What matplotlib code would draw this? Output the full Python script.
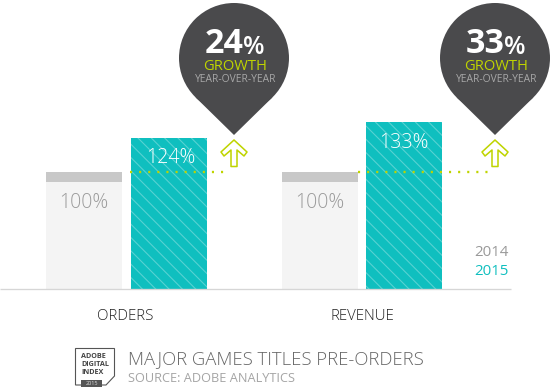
"""Major games titles pre-orders, 2014 vs 2015, with growth pins."""
import matplotlib
matplotlib.use("Agg")
import matplotlib.pyplot as plt
from matplotlib.patches import Circle, Polygon, Rectangle

# Data
CATEGORIES = ["ORDERS", "REVENUE"]
BAR_2014 = [117, 117]  # drawn height, the picture is not to scale with the labels
BAR_2015 = [151, 167]
LABELS_2014 = ["100%", "100%"]
LABELS_2015 = ["124%", "133%"]
GROWTH = ["24", "33"]
YEARS = ["2014", "2015"]

# Layout, in picture pixels
W, H = 554, 391
DPI = 80
BASE = 289
X_2014 = [46, 282]
X_2015 = [131, 366]
BAR_W = 76
CAP_H = 10
PIN_X = [234, 495]
PIN_Y = 58
PIN_R = 55
TIP_Y = 135

GRAY_BAR = "#f4f4f4"
GRAY_CAP = "#c8c8c8"
TEAL = "#0fbfbf"
STRIPE = "#58d2d2"
LIME = "#bfd400"
DARK = "#4a4a4c"

plt.rcParams["font.family"] = ["Open Sans", "DejaVu Sans"]
plt.rcParams["hatch.linewidth"] = 1.0


def fs(px):
    return px * 72 / DPI


def y_of(py):
    return BASE - py


fig = plt.figure(figsize=(W / DPI, H / DPI), dpi=DPI)
ax = fig.add_axes([0, 0, 1, 1])
ax.set_xlim(0, W)
ax.set_ylim(BASE - H, BASE)
ax.axis("off")

# Bars
ax.bar(X_2014, BAR_2014, BAR_W, align="edge", color=GRAY_BAR, linewidth=0)
ax.bar(X_2014, [CAP_H] * 2, BAR_W, bottom=[h - CAP_H for h in BAR_2014], align="edge",
       color=GRAY_CAP, linewidth=0)
ax.bar(X_2015, BAR_2015, BAR_W, align="edge", color=TEAL, edgecolor=STRIPE, hatch="\\\\", linewidth=0)
ax.plot([0, 511], [0, 0], color="#d6d6d6", lw=1.2, solid_capstyle="butt")

for i, name in enumerate(CATEGORIES):
    ax.text(X_2014[i] + BAR_W / 2 - 0.5, y_of(203), LABELS_2014[i], color="#9a9a9a", fontsize=fs(19.5),
            ha="center", va="center", fontweight="light")
    top = y_of(158) if i == 0 else y_of(143.5)
    ax.text(X_2015[i] + BAR_W / 2 + 2 * (i == 0), top, LABELS_2015[i], color="white", fontsize=fs(19.5),
            ha="center", va="center", fontweight="light")
    label_x = 125 if i == 0 else 362.5
    ax.text(label_x, y_of(317), name, color="#222222", fontsize=fs(15), ha="center", va="center",
            fontweight="light")

    # Dotted guide from the 2014 top to the arrow
    start = 130 if i == 0 else 358
    ax.plot([start, PIN_X[i] - 4], [BAR_2014[i], BAR_2014[i]], color=LIME, lw=2.1,
            linestyle=(0, (0.9, 3.0)), zorder=4)

    # Growth pin
    px = PIN_X[i]
    ax.add_patch(Circle((px, y_of(PIN_Y)), PIN_R, color=DARK, linewidth=0, zorder=5))
    d = TIP_Y - PIN_Y
    tan_y = PIN_Y + PIN_R ** 2 / d
    tan_dx = PIN_R * (1 - (PIN_R / d) ** 2) ** 0.5
    ax.add_patch(Polygon([(px - tan_dx, y_of(tan_y)), (px + tan_dx, y_of(tan_y)), (px, y_of(TIP_Y))],
                         closed=True, color=DARK, linewidth=0, zorder=5))
    ax.text(px + 10, y_of(44), GROWTH[i], color="white", fontsize=fs(34), fontweight="bold",
            ha="right", va="center", zorder=6)
    ax.text(px + 9, y_of(47), "%", color="white", fontsize=fs(25), fontweight="semibold",
            ha="left", va="center", zorder=6)
    ax.text(px + 1, y_of(66), "GROWTH", color=LIME, fontsize=fs(14.8), ha="center", va="center", zorder=6)
    ax.text(px + 1.5, y_of(79.5), "YEAR-OVER-YEAR", color="#a8a8a8", fontsize=fs(10.2), ha="center",
            va="center", zorder=6)

    # Up arrow outline
    arrow = [(0, 140), (13, 152), (10, 156), (3, 150), (3, 166.5), (-3, 166.5), (-3, 150),
             (-10, 156), (-13, 152)]
    ax.add_patch(Polygon([(px + a, y_of(b)) for a, b in arrow], closed=True, fill=False,
                         edgecolor=LIME, lw=1.4, joinstyle="round", zorder=6))

# Year legend
ax.text(509, y_of(253), YEARS[0], color="#999999", fontsize=fs(15), ha="right", va="center")
ax.text(509, y_of(271.5), YEARS[1], color=TEAL, fontsize=fs(15), ha="right", va="center")

# Badge
ax.add_patch(Polygon([(x, y_of(p)) for x, p in [(75.5, 348.5), (114.5, 348.5), (114.5, 376), (106, 385),
                                                 (75.5, 385)]],
                     closed=True, fill=False, edgecolor="#555555", lw=1.0))
for p, word in zip([357, 364.5, 372], ["ADOBE", "DIGITAL", "INDEX"]):
    ax.text(81, y_of(p), word, color="#444444", fontsize=fs(7.2), fontweight="bold", ha="left", va="center")
ax.add_patch(Rectangle((81, y_of(387)), 21, 7, color="#555555", linewidth=0, zorder=3))
ax.text(91.5, y_of(383.5), "2015", color="#dddddd", fontsize=fs(5.5), ha="center", va="center", zorder=4)

# Title
ax.text(128, y_of(359.5), "MAJOR GAMES TITLES PRE-ORDERS", color="#666666", fontsize=fs(18.5),
        ha="left", va="center", fontweight="light")
ax.text(128, y_of(378.5), "SOURCE: ADOBE ANALYTICS", color="#a5a5a5", fontsize=fs(12.7), ha="left", va="center")

fig.savefig("out.png", dpi=DPI)
